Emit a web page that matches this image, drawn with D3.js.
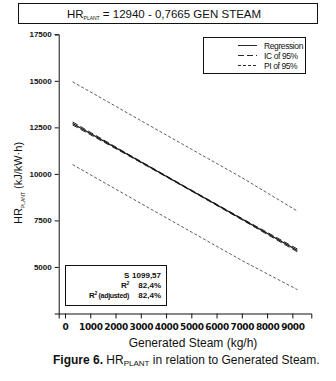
<!DOCTYPE html>
<html>
<head>
<meta charset="utf-8">
<script src="https://cdn.jsdelivr.net/npm/d3@7/dist/d3.min.js"></script>
<style>
	body { margin: 0; background: #fff; }
	svg { display: block; }
	text { font-family: "Liberation Sans", Arial, sans-serif; fill: #111; }
	.axis path, .axis line { stroke: #111; stroke-width: 1; }
</style>
</head>
<body>
<svg id="chart" width="336" height="381"></svg>
<script>
// data
const steam = [300, 2500, 4700, 7000, 9200];
const regression = [12710, 11024, 9337, 7575, 5888];
const icUpper = [12790, 11060, 9360, 7610, 5965];
const icLower = [12630, 10990, 9315, 7540, 5812];
const piUpper = [14950, 13250, 11560, 9800, 8000];
const piLower = [10500, 8800, 7110, 5350, 3780];

const xTicks = [0, 1000, 2000, 3000, 4000, 5000, 6000, 7000, 8000, 9000];
const yTicks = [5000, 7500, 10000, 12500, 15000, 17500];

const stats = [
	{label: 'S', sup: '', extra: '', value: '1099,57'},
	{label: 'R', sup: '2', extra: '', value: '82,4%'},
	{label: 'R', sup: '2', extra: ' (adjusted)', value: '82,4%'}
];
const legendItems = [
	{name: 'Regression', dash: null},
	{name: 'IC of 95%', dash: '6,3'},
	{name: 'PI of 95%', dash: '3,2'}
];

const svg = d3.select('#chart');

// scales
const x = d3.scaleLinear().domain([-250, 9750]).range([58.7, 311.3]);
const y = d3.scaleLinear().domain([2500, 17500]).range([313.5, 34.3]);

// equation box at the top
svg.append('rect')
	.attr('x', 18.5).attr('y', 3.5)
	.attr('width', 299).attr('height', 20)
	.attr('fill', 'none').attr('stroke', '#111');

let title = svg.append('text')
	.attr('x', 164).attr('y', 17.5)
	.attr('text-anchor', 'middle')
	.style('font-size', '11.5px');
title.append('tspan').text('HR');
title.append('tspan').text('PLANT').attr('dy', 2.5).style('font-size', '5px');
title.append('tspan').text(' = 12940 - 0,7665 GEN STEAM').attr('dy', -2.5);

// axes
svg.append('g')
	.attr('class', 'axis')
	.attr('transform', 'translate(0,' + y(2500) + ')')
	.call(d3.axisBottom(x).tickValues(xTicks).tickFormat(d3.format('d'))
		.tickSizeOuter(0).tickSize(5).tickPadding(5))
	.selectAll('text')
	.style('font-size', '9px')
	.style('font-weight', 'bold')
	.style('font-family', '"DejaVu Sans", sans-serif')
	.style('letter-spacing', '-0.4px');

svg.append('g')
	.attr('class', 'axis')
	.attr('transform', 'translate(' + x(-250) + ',0)')
	.call(d3.axisLeft(y).tickValues(yTicks).tickFormat(d3.format('d'))
		.tickSizeOuter(0).tickSize(4).tickPadding(3))
	.selectAll('text')
	.style('font-size', '8px')
	.style('font-weight', 'bold');

svg.selectAll('.axis text').style('fill', '#111');

// axis titles
svg.append('text')
	.attr('x', 193).attr('y', 347)
	.attr('text-anchor', 'middle')
	.style('font-size', '12px')
	.text('Generated Steam (kg/h)');

let yLabel = svg.append('text')
	.attr('transform', 'translate(22,183) rotate(-90)')
	.attr('text-anchor', 'middle')
	.style('font-size', '11px');
yLabel.append('tspan').text('HR');
yLabel.append('tspan').text('PLANT').attr('dy', 2.5).style('font-size', '5px');
yLabel.append('tspan').text(' (kJ/kW·h)').attr('dy', -2.5);

// lines
const line = d3.line()
	.x(d => x(d[0]))
	.y(d => y(d[1]));

function addLine(values, dash, width, color) {
	svg.append('path')
		.datum(steam.map((s, i) => [s, values[i]]))
		.attr('d', line)
		.attr('fill', 'none')
		.attr('stroke', color)
		.attr('stroke-width', width)
		.attr('stroke-dasharray', dash);
}

addLine(piUpper, '3,2', 0.8, '#333');
addLine(piLower, '3,2', 0.8, '#333');
addLine(icUpper, '6,3', 1, '#222');
addLine(icLower, '6,3', 1, '#222');
addLine(regression, null, 1.2, '#111');

// legend
const legend = svg.append('g');
legend.append('rect')
	.attr('x', 203.5).attr('y', 37.5)
	.attr('width', 102).attr('height', 36)
	.attr('fill', '#fff').attr('stroke', '#111');

legendItems.forEach((item, i) => {
	let ly = 45.5 + i * 10;
	legend.append('line')
		.attr('x1', 238).attr('x2', 257)
		.attr('y1', ly).attr('y2', ly)
		.attr('stroke', '#111')
		.attr('stroke-width', 0.9)
		.attr('stroke-dasharray', item.dash);
	legend.append('text')
		.attr('x', 264).attr('y', ly + 3)
		.style('font-size', '8.5px')
		.style('letter-spacing', '-0.4px')
		.text(item.name);
});

// stats box
const statBox = svg.append('g');
statBox.append('rect')
	.attr('x', 65.5).attr('y', 265.5)
	.attr('width', 101).attr('height', 40)
	.attr('fill', '#fff').attr('stroke', '#111');

stats.forEach((s, i) => {
	let sy = 278 + i * 10;
	let t = statBox.append('text')
		.attr('x', 129).attr('y', sy)
		.attr('text-anchor', 'end')
		.style('font-size', '8px')
		.style('font-weight', 'bold')
		.style('letter-spacing', '-0.3px');
	t.append('tspan').text(s.label);
	if (s.sup) {
		t.append('tspan').text(s.sup).attr('dy', -3).style('font-size', '5px');
		t.append('tspan').text(s.extra).attr('dy', 3).style('font-size', '7px');
	}
	statBox.append('text')
		.attr('x', 161).attr('y', sy)
		.attr('text-anchor', 'end')
		.style('font-size', '8px')
		.style('font-weight', 'bold')
		.text(s.value);
});

// caption
let caption = svg.append('text')
	.attr('x', 53).attr('y', 364)
	.style('font-size', '12px');
caption.append('tspan').text('Figure 6. ').style('font-weight', 'bold');
caption.append('tspan').text('HR');
caption.append('tspan').text('PLANT').attr('dy', 2).style('font-size', '8px');
caption.append('tspan').text(' in relation to Generated Steam.').attr('dy', -2);
</script>
</body>
</html>
